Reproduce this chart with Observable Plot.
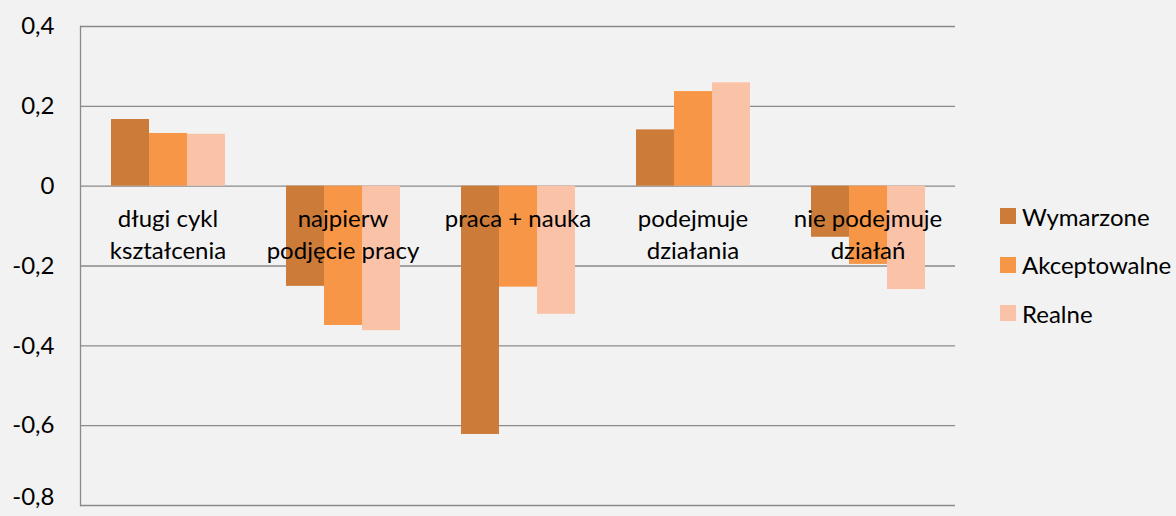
<!DOCTYPE html>
<html>
<head>
<meta charset="utf-8">
<script src="https://cdn.jsdelivr.net/npm/d3@7"></script>
<script src="https://cdn.jsdelivr.net/npm/@observablehq/plot@0.6"></script>
<style>
  html, body { margin: 0; padding: 0; background: #f2f2f2; }
  #wrap { position: relative; width: 1176px; height: 516px; font-family: Lato, "Noto Sans", sans-serif; }
  #legend { position: absolute; left: 1000px; top: 0; }
  .item { position: absolute; display: flex; align-items: center; white-space: nowrap; font-size: 24px; color: #000; }
  .sw { width: 16px; height: 16px; margin-right: 6px; }
</style>
</head>
<body>
<div id="wrap"></div>
<script>
const categories = ["długi cykl\nkształcenia", "najpierw\npodjęcie pracy", "praca + nauka", "podejmuje\ndziałania", "nie podejmuje\ndziałań"];
const series = ["Wymarzone", "Akceptowalne", "Realne"];
const colors = ["#cc7b39", "#f79646", "#fac2a7"];
const wymarzone = [0.167, -0.251, -0.622, 0.141, -0.128];
const akceptowalne = [0.132, -0.349, -0.253, 0.237, -0.196];
const realne = [0.130, -0.362, -0.321, 0.259, -0.259];
const yTicks = [0.4, 0.2, 0, -0.2, -0.4, -0.6, -0.8];

const values = [wymarzone, akceptowalne, realne];
const data = [];
categories.forEach((c, i) => series.forEach((s, j) => data.push({category: c, series: s, value: values[j][i]})));

const fmt = d => d === 0 ? "0" : d.toFixed(1).replace(".", ",");
const lastTick = yTicks[yTicks.length - 1];

const chart = Plot.plot({
  width: 1176,
  height: 516,
  marginLeft: 78,
  marginRight: 219,
  marginTop: 26,
  marginBottom: 11,
  style: {background: "transparent", fontFamily: "Lato, 'Noto Sans', sans-serif", fontSize: "24px", color: "#000"},
  fx: {domain: categories, padding: 0, axis: null},
  x: {domain: series, paddingInner: 0, paddingOuter: 0.75, axis: null},
  y: {domain: [-0.8, 0.4], axis: null},
  color: {domain: series, range: colors},
  marks: [
    Plot.ruleY(yTicks, {stroke: "#8a8a8a", strokeWidth: 1.3}),
    Plot.barY(data, {fx: "category", x: "series", y: "value", fill: "series", inset: 0}),
    Plot.text(categories, {fx: d => d, text: d => d, y: 0, lineAnchor: "top", dy: 19, fontSize: 24, fill: "#000", lineHeight: 1.3}),
    Plot.axisY({ticks: yTicks.slice(0, -1), tickFormat: fmt, tickSize: 0, tickPadding: 26, fontSize: 24, fill: "#000", label: null, facetAnchor: "left"}),
    Plot.axisY({ticks: [lastTick], tickFormat: fmt, tickSize: 0, tickPadding: 26, fontSize: 24, fill: "#000", label: null, facetAnchor: "left", dy: -8}),
    Plot.frame({anchor: "left", stroke: "#8a8a8a", strokeWidth: 1.3, facetAnchor: "left"})
  ]
});
document.getElementById("wrap").appendChild(chart);

const legend = document.createElement("div");
legend.id = "legend";
const centers = [216, 264.5, 313];
series.forEach((s, i) => {
  const it = document.createElement("div");
  it.className = "item";
  it.style.top = (centers[i] - 15) + "px";
  it.style.height = "30px";
  const sw = document.createElement("span");
  sw.className = "sw";
  sw.style.background = colors[i];
  const tx = document.createElement("span");
  tx.textContent = s;
  it.appendChild(sw); it.appendChild(tx);
  legend.appendChild(it);
});
document.getElementById("wrap").appendChild(legend);
</script>
</body>
</html>
